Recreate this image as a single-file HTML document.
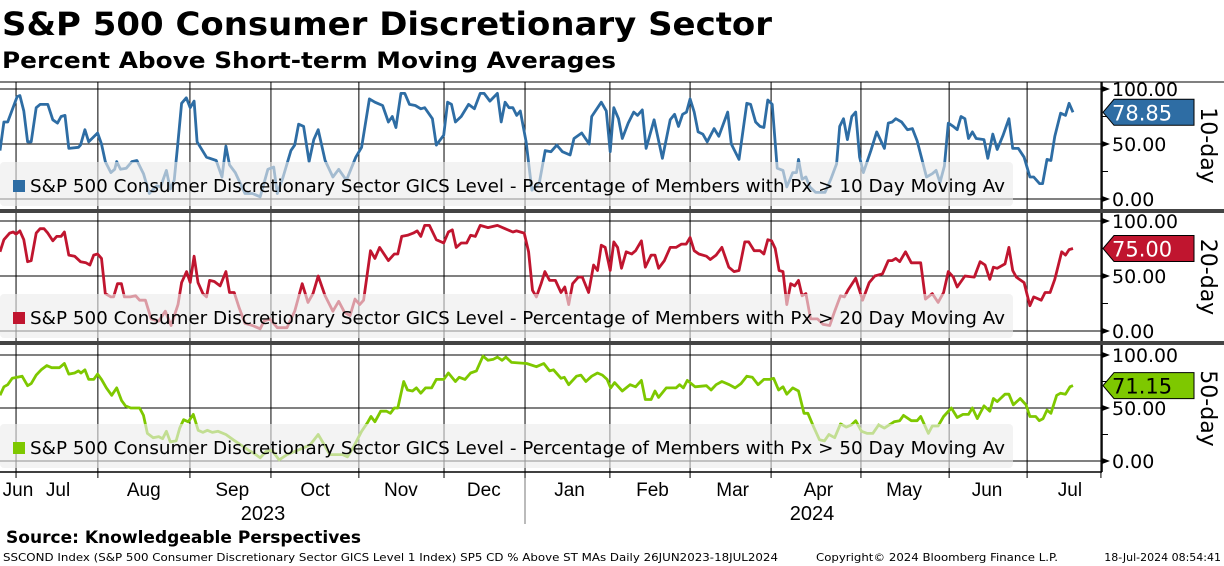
<!DOCTYPE html>
<html><head><meta charset="utf-8"><style>
html,body{margin:0;padding:0;background:#fff;width:1224px;height:566px;overflow:hidden}
svg{display:block;font-family:"DejaVu Sans","Liberation Sans",sans-serif}
</style></head><body>
<svg id="chart" width="1224" height="566" viewBox="0 0 1224 566">
<text x="2" y="35" font-size="32" font-weight="bold" textLength="770" lengthAdjust="spacingAndGlyphs">S&amp;P 500 Consumer Discretionary Sector</text>
<text x="2" y="68" font-size="22" font-weight="bold" textLength="614" lengthAdjust="spacingAndGlyphs">Percent Above Short-term Moving Averages</text>
<g id="plots"></g>
<text x="6" y="543" font-size="17" font-weight="bold" textLength="355" lengthAdjust="spacingAndGlyphs">Source: Knowledgeable Perspectives</text>
<text x="3" y="561" font-size="11" textLength="775" lengthAdjust="spacingAndGlyphs">SSCOND Index (S&amp;P 500 Consumer Discretionary Sector GICS Level 1 Index) SP5 CD % Above ST MAs  Daily 26JUN2023-18JUL2024</text>
<text x="816" y="561" font-size="11" textLength="242" lengthAdjust="spacingAndGlyphs">Copyright© 2024 Bloomberg Finance L.P.</text>
<text x="1221" y="561" font-size="11" text-anchor="end">18-Jul-2024 08:54:41</text>
</svg>
<script>
// days since 26-Jun-2023
const d10 = [0,1.4,2.8,6.2,7.2,8.6,10,11.3,13.1,14.5,17.3,19.1,20.8,22.1,23.5,24.9,28.4,29.1,30.7,32.1,35.3,36.7,38.1,40.1,41.5,42.2,43.6,45.7,47.7,49.5,51.9,54,56.7,58.1,60.2,61.6,63,64.4,65.7,67.4,68.8,70.2,71.3,74.7,78.2,80.3,81.7,83,85.1,88.6,91.3,94.1,96.9,99,100.3,102.4,105.2,106.6,108,109.8,111.8,113.5,115.1,117.6,120.4,122.5,125.3,128.7,130.8,133.6,135.6,138.4,140.5,141.9,143.2,145,146.4,148.1,150.2,152.2,153.6,156.4,157.8,160.5,161.9,163.3,164.7,166.8,169.5,171.6,173.7,175.1,177.2,179.9,181.3,182.7,184.1,185.5,186.9,188.2,190.3,192.4,195.1,197.2,199.3,201.4,203.4,206.2,207.6,210.4,213.1,
214,217.5,219.3,220.7,222,223.7,225.1,227.2,229.2,230.6,232.3,233.7,236.6,239.6,242.4,244,245.4,246.9,248.3,249.6,251.1,252.5,254.2,255.8,258.3,260,263.2,264.5,267.3,270.1,271.5,273.3,274.9,276.3,277.7,279.3,281.1,283.2,284.6,286.7,288.1,288.8,290.1,291.5,292.9,295,298.4,300.5,302.6,303.7,305.1,306.5,308.1,309.5,310.9,312.3,315,317.1,319.9,321.3,322.7,324,326.1,328.2,330,331.7,335.1,337.2,338.6,340,341.6,343,344.8,346.2,347.6,349,350.3,351.7,353.1,355.9,357.3,359.1,360.7,362.8,364.9,366.3,368.3,370.4,372.5,373.9,376,377.1,378.7,380.1,381.5,383.6,385.4,386.7,388.1];
const v10 = [44,70,70,93,94,80,52,52,83,86,86,72,69,75,76,46,47,49,63,52,60,50,34,24,27,34,27,28,34,35,23,5,12,11,26,9,17,52,87,92,83,89,52,38,35,20,48,31,24,5,5,2,27,29,5,20,44,49,68,66,34,54,63,35,20,27,17,38,47,91,88,85,70,75,65,96,96,86,85,82,83,73,49,58,88,86,70,75,86,82,96,96,89,96,70,88,83,83,76,80,52,8,15,44,43,49,43,40,55,60,50,
75,88,80,43,83,73,55,69,79,76,81,46,72,37,72,77,66,77,79,91,79,61,59,52,64,57,79,50,36,87,86,70,66,65,90,86,28,26,11,24,24,36,18,20,11,6,6,18,32,66,73,54,75,79,38,24,44,61,46,69,70,73,70,63,64,53,20,23,26,15,30,69,66,63,75,73,55,61,55,54,37,59,45,58,73,46,46,38,20,20,14,14,36,35,57,78,76,87,78.85];
const d20 = [0,1.4,3.5,4.8,5.8,7.2,8.6,10,11.3,13.1,14.5,15.9,17.3,19.1,20.5,22.1,23.3,24.9,27,29.1,31.1,32.5,33.9,35.3,36.7,38.1,40.1,41.1,42.5,43.9,45,47.1,49.1,50.5,52.6,54.7,57.4,59.8,61.9,64.4,65.7,67.5,68.8,70.2,71.6,73.4,74.7,75.8,77.5,79.6,81.7,83,84.7,86.5,88.6,91.3,94.1,95.5,97.6,100.3,103.8,106.6,109.3,111.4,113.2,115.1,117.6,120.4,122.5,124.6,126.6,128.4,130.1,131.5,134,135.6,137.3,140.5,142.6,143.9,145.3,147.4,149.5,150.9,152.2,153.6,155.3,157.8,160.5,162.2,163.6,165,166.8,168.8,170.2,171.9,173.7,176.5,179.9,182.7,185.5,186.8,189.6,
191.2,192.6,194,195.7,197.1,198.8,200.9,202.9,204.3,205.7,207.1,209.2,210.6,212.9,214.7,216.1,217.5,218.9,220.7,222,223.4,224.8,226.5,228.5,229.9,232,233.4,235.5,236.9,238.2,240.3,242.4,244.5,246.5,248.2,249.6,251.1,252.8,255.5,256.9,259,261.1,263.6,265.5,267.3,269.4,270.8,272.8,274.9,276.3,277.7,279.1,280.4,281.8,283.2,284.6,286,287.4,288.8,290.1,291.5,293.2,295.7,297.7,300.1,301.9,304,305.4,306.7,309.5,312,314.4,316.4,319.2,321.3,322.7,324,325.4,327.5,329.6,333,334.7,337.2,339.3,341.3,343,344.8,346.2,349,352.4,354.5,356.3,358,359.3,360.7,363.5,364.9,366.3,367.6,370.4,372.5,373.9,376.6,378,379.8,381.5,384,385.4,386.7,388.1];
const v20 = [72,83,89,90,88,91,83,63,64,89,93,93,89,82,86,86,90,69,68,63,62,60,69,70,66,34,31,31,43,43,31,31,32,28,28,11,9,18,5,24,44,54,44,68,44,34,31,46,45,41,54,35,35,21,7,5,2,9,11,3,3,18,43,26,34,50,32,18,27,17,14,29,24,28,73,66,76,64,70,70,86,87,89,91,86,96,96,83,80,90,92,76,80,80,87,86,96,94,96,93,90,91,89,
72,37,31,43,54,46,46,35,40,24,43,49,49,35,60,55,78,76,55,81,76,57,72,70,73,82,58,69,69,57,64,76,76,79,79,85,73,70,68,65,69,76,58,54,55,81,81,73,73,70,83,82,75,55,54,24,43,41,46,32,34,11,11,6,5,18,32,31,37,48,28,44,50,52,64,64,66,63,72,62,62,29,34,26,35,54,49,40,50,49,63,60,47,58,57,61,76,55,49,44,23,31,28,35,35,47,72,69,74,75];
const d50 = [0,1.4,2.8,4.4,6.2,8,10,11.3,13.1,14.9,16.9,18.7,21.5,23.3,24.9,27,28.4,29.3,30.7,32.1,33.9,35.3,36.7,38.5,40.4,42.2,44,45.4,47.3,50.5,51.9,53.3,55.4,57.4,58.8,60.2,61.6,63.7,65,66.4,68.1,69.9,71.7,73.4,75,76.8,78.9,81.7,84.4,87.2,90,92,94.1,96.2,98.3,101,103.8,106.6,109.3,112.1,115.1,117.6,119.3,121.8,123.9,125.7,128,130.8,132.9,134.2,135.6,137.7,139.8,141.2,142.6,143.9,146,147.4,149.2,150.6,152.2,153.9,156.1,157.8,160.5,162.2,164.7,166.1,168.2,170.2,172.3,174.7,176.5,178.5,179.9,181.6,183,
185,190.5,194,196.7,198.8,200.2,202.9,204.1,205.7,208.5,210.1,211.9,214,216.1,217.9,219.6,220.9,222.3,225.1,227.9,229.9,232,233.4,235.5,236.9,238.2,241,244.5,245.8,247.2,248.6,251.4,255.5,257.2,259,261.1,263.8,265.9,268,270.1,272.1,274.2,276.3,278.4,279.8,281.6,283.2,284.6,286.7,288.8,290.8,292.2,294.3,296.4,298.2,299.8,301.9,304,306.1,307.9,309.5,311.6,313.7,315.7,317.8,319.9,323.4,325.4,326.8,329.6,331.7,333,335.8,337.2,339.3,341.3,344.1,346.2,348.3,350.3,351.7,353.5,355.9,358,359.3,360.7,363.5,364.9,366.5,369,371.1,372.5,374.6,375.9,377.3,378.7,380.1,382.2,383.6,385.4,387,388.1];
const v50 = [62,70,72,78,79,80,71,73,81,86,90,88,88,92,82,83,85,83,86,77,77,82,77,69,62,69,57,52,50,50,43,26,22,23,21,28,18,19,31,39,37,44,29,27,29,27,28,25,20,15,10,7,3,9,10,1,6,9,12,15,25,14,6,6,6,4,14,28,36,42,37,47,47,45,50,50,75,67,66,69,64,69,69,77,77,83,75,79,77,83,85,99,95,96,98,95,98,
93,92,89,92,85,86,78,79,72,80,81,75,80,83,81,77,69,74,66,72,70,76,58,58,66,60,69,69,72,69,76,70,71,67,72,75,72,69,73,80,79,72,77,77,78,67,70,63,69,66,45,45,32,20,19,25,22,35,32,34,38,28,26,26,34,31,37,38,43,38,38,42,26,33,33,42,50,41,44,44,50,40,52,47,59,56,63,63,53,59,53,42,42,38,40,48,45,62,64,63,70,71.15];
const monthLabels = ["Jun","Jul","Aug","Sep","Oct","Nov","Dec","Jan","Feb","Mar","Apr","May","Jun","Jul"];
const monthMidDays = [-1,21,52,84,114,145,175,206,236,265,296,327,357,387];
const monthStartDays = [5.8,35.4,68.7,98,129.8,160.6,189.9,220.6,249.6,278.9,311.4,343.3,371.5,398.2];
const yTicks = [0,50,100];
const yTickLabels = ["0.00","50.00","100.00"];
const lastLabels = ["78.85","75.00","71.15"];
const panelNames = ["10-day","20-day","50-day"];

const NS="http://www.w3.org/2000/svg";
const svg=document.getElementById('plots');
const X0=0,X1=1073,D1=388.1,AX=1102;
function xs(d){return X0+(d/D1)*(X1-X0);}
function mk(t,a,parent){const e=document.createElementNS(NS,t);for(const k in a)e.setAttribute(k,a[k]);(parent||svg).appendChild(e);return e;}
const panels=[{top:82,y100:89,y0:199,bot:209,col:"#2e6da4",d:d10,v:v10,txt:"#fff",leg:"10"},
{top:213,y100:221,y0:331,bot:341,col:"#c0152f",d:d20,v:v20,txt:"#fff",leg:"20"},
{top:345,y100:355,y0:461,bot:472,col:"#7ec800",d:d50,v:v50,txt:"#000",leg:"50"}];
panels.forEach((p,pi)=>{
  const ys=v=>p.y0-(v/100)*(p.y0-p.y100);
  const g=mk('g',{});
  
  
  monthStartDays.forEach((md,i)=>{const x=xs(md);if(x<=0||x>=AX)return;
    const l=mk('line',{x1:x,x2:x,y1:p.top,y2:p.bot,stroke:"#000","stroke-width":1},g);
    
    });
  yTicks.forEach((t,i)=>{const y=ys(t);
    const l=mk('line',{x1:0,x2:AX,y1:y,y2:y,stroke:"#000","stroke-width":1},g);
    
    
    mk('path',{d:`M${AX} ${y-3}L${AX+8} ${y}L${AX} ${y+3}Z`,fill:"#000"},g);
    const tx=mk('text',{x:AX+10,y:y+7,"font-size":19},g);tx.textContent=yTickLabels[i];
    if(i===2){tx.setAttribute('textLength',66);tx.setAttribute('lengthAdjust','spacingAndGlyphs');}
    
    });
  [25,75].forEach(t=>{const y=ys(t);mk('line',{x1:AX,x2:AX+6,y1:y,y2:y,stroke:"#000"},g);});
  mk('line',{x1:AX,x2:AX,y1:p.top,y2:p.bot,stroke:"#000","stroke-width":1.5},g);
  let pts=p.d.map((d,i)=>xs(d).toFixed(1)+","+ys(p.v[i]).toFixed(1)).join(" ");
  const pl=mk('polyline',{points:pts,fill:"none",stroke:p.col,"stroke-width":2.8,"stroke-linejoin":"round"},g);
  
  
  const ly=p.y0-37;
  const lb=mk('rect',{x:0,y:ly,width:1013,height:44,rx:4,fill:"rgba(236,236,236,0.62)"},g);
  
  
  mk('rect',{x:13,y:ly+18,width:12,height:12,fill:p.col},g);
  const lt=mk('text',{x:30,y:ly+30,"font-size":18,textLength:975,lengthAdjust:"spacingAndGlyphs"},g);
  lt.textContent="S&P 500 Consumer Discretionary Sector GICS Level - Percentage of Members with Px > "+p.leg+" Day Moving Av";
  
  
  const last=p.v[p.v.length-1],yl=ys(last);
  const tag=mk('path',{d:`M${AX+1} ${yl}L${AX+12} ${yl-13}H1194V${yl+13}H${AX+12}Z`,fill:p.col,stroke:"#000","stroke-width":1},g);
  
  
  const tt=mk('text',{x:AX+10,y:yl+8,"font-size":21,fill:p.txt},g);tt.textContent=lastLabels[pi];
  const pt=mk('text',{transform:`translate(1201,${(p.top+p.bot)/2}) rotate(90)`,"font-size":22,"text-anchor":"middle"},g);
  pt.textContent=panelNames[pi];
  
  
});
mk('line',{x1:0,x2:1224,y1:82,y2:82,stroke:"#000","stroke-width":1});
[211,343].forEach(y=>{const s=mk('rect',{x:0,y:y-2,width:1224,height:4,fill:"#444"});
  
  });
mk('line',{x1:0,x2:AX,y1:472,y2:472,stroke:"#000","stroke-width":1.5});
monthStartDays.forEach(md=>{const x=xs(md);if(x<=0||x>AX)return;mk('line',{x1:x,x2:x,y1:472,y2:478,stroke:"#000"});});
monthLabels.forEach((m,i)=>{const t=mk('text',{x:Math.max(18,xs(monthMidDays[i])),y:496,"font-size":19,"text-anchor":"middle","font-family":"Liberation Sans Narrow, Liberation Sans, sans-serif"});
  t.textContent=m;
  
  });
mk('line',{x1:525,x2:525,y1:478,y2:524,stroke:"#777"});
const y1=mk('text',{x:263,y:520,"font-size":20,"text-anchor":"middle","font-family":"Liberation Sans Narrow, Liberation Sans, sans-serif"});y1.textContent="2023";


const y2=mk('text',{x:812,y:520,"font-size":20,"text-anchor":"middle","font-family":"Liberation Sans Narrow, Liberation Sans, sans-serif"});y2.textContent="2024";


</script>
</body></html>
